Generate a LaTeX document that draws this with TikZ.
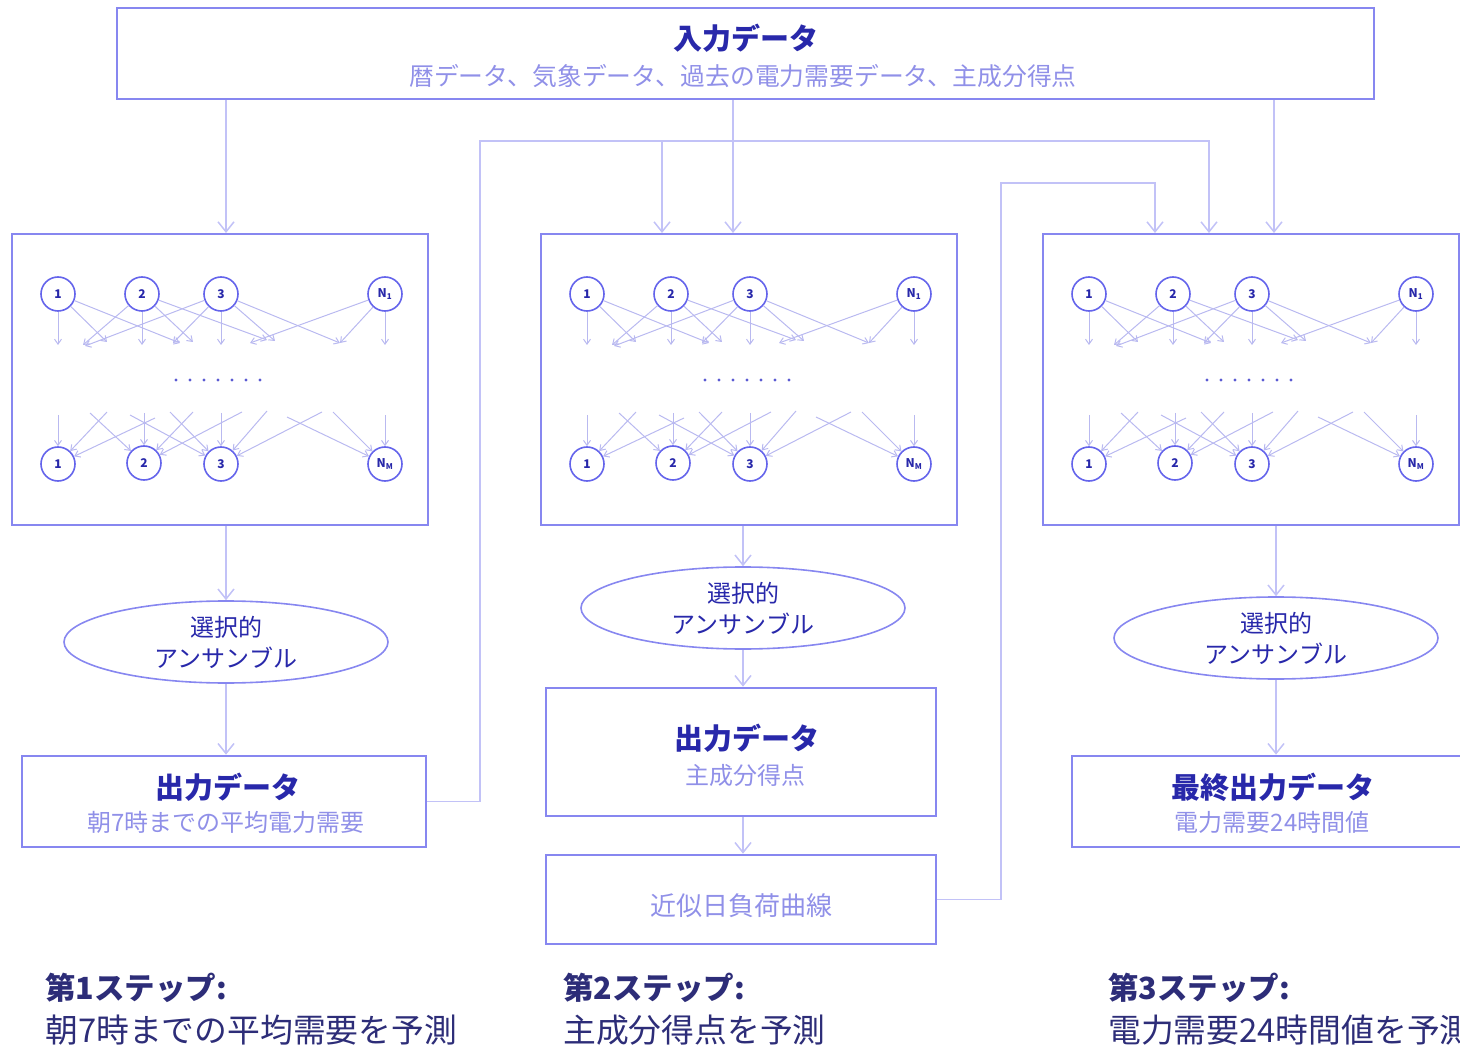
\documentclass[tikz,border=0pt]{standalone}
\usepackage{fontspec}
\setmainfont{Noto Sans CJK JP}
\usetikzlibrary{arrows.meta,shapes.geometric,calc}
\definecolor{boxc}{RGB}{135,135,240}
\definecolor{linec}{RGB}{194,194,247}
\definecolor{titlec}{RGB}{40,40,170}
\definecolor{subc}{RGB}{144,144,232}
\definecolor{stepc}{RGB}{45,45,120}
\definecolor{circc}{RGB}{100,100,235}
\definecolor{netc}{RGB}{185,185,240}
\definecolor{dotc}{RGB}{90,90,210}
\tikzset{
 bigbox/.style={draw=boxc, line width=2.6pt, inner sep=0pt},
 panelbox/.style={draw=boxc, line width=2pt, minimum width=416pt, minimum height=291pt, inner sep=0pt},
 ens/.style={ellipse, draw=boxc, line width=1.6pt, minimum width=324pt, minimum height=82pt, inner sep=0pt, align=center, text=titlec, font=\fontsize{24}{31}\selectfont},
 conn/.style={draw=linec, line width=1.5pt, -{Straight Barb[length=10pt,width=16pt]}},
 neur/.style={circle, draw=circc, line width=1.6pt, minimum size=34pt, inner sep=0pt, font=\bfseries\fontsize{12}{12}\selectfont, text=titlec},
 narr/.style={draw=netc, line width=1pt, -{Straight Barb[length=5pt,width=7pt]}},
 ttl/.style={text=titlec, font=\bfseries\fontsize{29}{29}\selectfont, inner sep=0pt},
 subt/.style={text=subc, font=\fontsize{24}{24}\selectfont, inner sep=0pt},
 stepttl/.style={anchor=west, text=stepc, font=\bfseries\fontsize{30.5}{30.5}\selectfont, inner sep=0pt},
 steptxt/.style={anchor=west, text=stepc, font=\fontsize{32.8}{32.8}\selectfont, inner sep=0pt},
}
\newcommand\netpanel[2]{%
\begin{scope}[xshift=#2pt]
 \node[panelbox] (#1) at (220,379.5) {};
 \node[neur] (#1t1) at (58,294) {1};
 \node[neur] (#1t2) at (142,294) {2};
 \node[neur] (#1t3) at (221,294) {3};
 \node[neur] (#1tn) at (385,294) {N\textsubscript{1}};
 \node[neur] (#1b1) at (58,464) {1};
 \node[neur] (#1b2) at (144,463) {2};
 \node[neur] (#1b3) at (221,464) {3};
 \node[neur] (#1bn) at (385,464) {N\textsubscript{M}};
 \draw[narr] (#1t1) -- (58,345);
 \draw[narr] (#1t1) -- (107,342);
 \draw[narr] (#1t1) -- (180,343);
 \draw[narr] (#1t2) -- (142,345);
 \draw[narr] (#1t2) -- (83,345);
 \draw[narr] (#1t2) -- (193,342);
 \draw[narr] (#1t2) -- (267,340);
 \draw[narr] (#1t3) -- (221,345);
 \draw[narr] (#1t3) -- (173,343);
 \draw[narr] (#1t3) -- (85,346);
 \draw[narr] (#1t3) -- (275,341);
 \draw[narr] (#1t3) -- (340,343);
 \draw[narr] (#1tn) -- (385,345);
 \draw[narr] (#1tn) -- (340,343);
 \draw[narr] (#1tn) -- (250,343);
 \draw[narr] (58,415) -- (#1b1);
 \draw[narr] (155,418) -- (#1b1);
 \draw[narr] (107,412) -- (#1b1);
 \draw[narr] (90,413) -- (#1b2);
 \draw[narr] (144,413) -- (#1b2);
 \draw[narr] (193,412) -- (#1b2);
 \draw[narr] (242,412) -- (#1b2);
 \draw[narr] (130,415) -- (#1b3);
 \draw[narr] (170,412) -- (#1b3);
 \draw[narr] (221,413) -- (#1b3);
 \draw[narr] (267,411) -- (#1b3);
 \draw[narr] (322,412) -- (#1b3);
 \draw[narr] (287,417) -- (#1bn);
 \draw[narr] (333,412) -- (#1bn);
 \draw[narr] (385,415) -- (#1bn);
 \foreach \k in {0,...,6} \fill[dotc] ({176+14*\k},380) circle (1.6pt);
\end{scope}}
\begin{document}
\begin{tikzpicture}[x=1pt,y=-1pt]
\useasboundingbox (0,0) rectangle (1460,1048);
% top input box
\node[bigbox, minimum width=1257pt, minimum height=91pt] (in) at (745.5,53.5) {};
\node[ttl] (inT) at (746,38) {入力データ};
\node[subt, font=\fontsize{24.8}{24.8}\selectfont] (inS) at (743,76) {暦データ、気象データ、過去の電力需要データ、主成分得点};
% panels
\netpanel{p1}{0}
\netpanel{p2}{529}
\netpanel{p3}{1031}
% ellipses
\node[ens] (e1) at (226,642) {選択的\\アンサンブル};
\node[ens] (e2) at (743,608) {選択的\\アンサンブル};
\node[ens] (e3) at (1276,638) {選択的\\アンサンブル};
% output boxes
\node[bigbox, minimum width=404pt, minimum height=91pt] (o1) at (224,801.5) {};
\node[ttl] (o1T) at (228,787) {出力データ};
\node[subt] (o1S) at (226,822) {朝7時までの平均電力需要};
\node[bigbox, minimum width=390pt, minimum height=128pt] (o2) at (741,752) {};
\node[ttl] (o2T) at (747,738) {出力データ};
\node[subt] (o2S) at (745,775) {主成分得点};
\node[bigbox, minimum width=390pt, minimum height=89pt] (cv) at (741,899.5) {};
\node[subt, font=\fontsize{26}{26}\selectfont] (cvT) at (741,906) {近似日負荷曲線};
\node[bigbox, minimum width=398pt, minimum height=91pt] (o3) at (1271,801.5) {};
\node[ttl] (o3T) at (1273,787) {最終出力データ};
\node[subt] (o3S) at (1272,822) {電力需要24時間値};
% steps
\node[stepttl] (s1T) at (45,988) {第1ステップ:};
\node[steptxt] (s1S) at (45,1030) {朝7時までの平均需要を予測};
\node[stepttl] (s2T) at (563,988) {第2ステップ:};
\node[steptxt] (s2S) at (563,1030) {主成分得点を予測};
\node[stepttl] (s3T) at (1108,988) {第3ステップ:};
\node[steptxt] (s3S) at (1108,1030) {電力需要24時間値を予測};
% connectors from input
\coordinate (a1) at (p1.north -| e1);
\coordinate (a2a) at ($(p2.north)+(-87,0)$);
\coordinate (a2b) at ($(p2.north)+(-16,0)$);
\coordinate (a3a) at ($(p3.north)+(-96,0)$);
\coordinate (a3b) at ($(p3.north)+(-42,0)$);
\coordinate (a3c) at ($(p3.north)+(23,0)$);
\coordinate (j1) at (480,141);
\coordinate (j2) at (1001,183);
\draw[conn] (in.south -| a1) -- (a1);
\draw[conn] (in.south -| a2b) -- (a2b);
\draw[conn] (in.south -| a3c) -- (a3c);
\draw[conn] (o1.east) -| (j1) -| (a3b);
\draw[conn] (j1 -| a2a) -- (a2a);
\draw[conn] (cv.east) -| (j2) -| (a3a);
% vertical flow
\draw[conn] (p1.south -| e1) -- (e1.north);
\draw[conn] (e1.south) -- (o1.north -| e1);
\draw[conn] (p2.south -| e2) -- (e2.north);
\draw[conn] (e2.south) -- (o2.north -| e2);
\draw[conn] (o2.south -| e2) -- (cv.north -| e2);
\draw[conn] (p3.south -| e3) -- (e3.north);
\draw[conn] (e3.south) -- (o3.north -| e3);
\end{tikzpicture}
\end{document}
